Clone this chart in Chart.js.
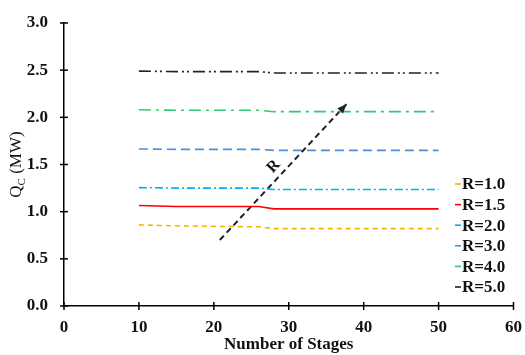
<!DOCTYPE html>
<html>
<head>
<meta charset="utf-8">
<script src="https://cdn.jsdelivr.net/npm/chart.js@4.4.0/dist/chart.umd.min.js"></script>
<style>
html, body { margin: 0; padding: 0; background: #fff; }
#wrap { width: 525px; height: 355px; }
</style>
</head>
<body>
<div id="wrap"><canvas id="QcStages"></canvas></div>
<script>
const stages = [10, 15, 20, 25, 26, 28, 30, 35, 40, 45, 50];
const qR10 = [0.86, 0.85, 0.845, 0.84, 0.84, 0.82, 0.82, 0.82, 0.82, 0.82, 0.82];
const qR15 = [1.065, 1.055, 1.055, 1.055, 1.055, 1.03, 1.03, 1.03, 1.03, 1.03, 1.03];
const qR20 = [1.255, 1.25, 1.25, 1.25, 1.25, 1.235, 1.235, 1.235, 1.235, 1.235, 1.235];
const qR30 = [1.665, 1.66, 1.66, 1.66, 1.66, 1.65, 1.65, 1.65, 1.65, 1.65, 1.65];
const qR40 = [2.08, 2.075, 2.075, 2.075, 2.075, 2.06, 2.06, 2.06, 2.06, 2.06, 2.06];
const qR50 = [2.49, 2.485, 2.485, 2.485, 2.485, 2.47, 2.47, 2.47, 2.47, 2.47, 2.47];
const ratioLabels = ['R=1.0', 'R=1.5', 'R=2.0', 'R=3.0', 'R=4.0', 'R=5.0'];
const arrowX = [20.8, 37.7];
const arrowY = [0.70, 2.14];
const arrowLabel = 'R';

const serif = '"Liberation Serif", "Times New Roman", serif';

function pts(ys) {
  return stages.map((s, i) => ({ x: s, y: ys[i] }));
}

const series = [
  { data: qR10, color: '#F7B500', dash: [5, 4] },
  { data: qR15, color: '#FF0000', dash: [] },
  { data: qR20, color: '#00B0F0', dash: [8, 3, 2, 3] },
  { data: qR30, color: '#4A90D9', dash: [9, 5] },
  { data: qR40, color: '#2ECC71', dash: [12, 5, 3, 5] },
  { data: qR50, color: '#222222', dash: [12, 4, 2, 3, 2, 4] }
];

const datasets = series.map((s, i) => ({
  label: ratioLabels[i],
  data: pts(s.data),
  borderColor: s.color,
  borderDash: s.dash,
  borderWidth: 1.6,
  pointRadius: 0,
  tension: 0,
  fill: false
}));

datasets.push({
  label: 'arrow',
  data: arrowX.map((x, i) => ({ x: x, y: arrowY[i] })),
  borderColor: '#222',
  borderDash: [6, 4],
  borderWidth: 2,
  pointRadius: 0,
  fill: false
});

const extras = {
  id: 'extras',
  afterDraw(chart) {
    const c = chart.ctx;
    const xs = chart.scales.x, ys = chart.scales.y;
    const area = chart.chartArea;
    c.save();

    // tick marks crossing the axes
    c.strokeStyle = '#000';
    c.lineWidth = 1.5;
    xs.ticks.forEach(t => {
      const px = xs.getPixelForValue(t.value);
      c.beginPath(); c.moveTo(px, area.bottom - 4); c.lineTo(px, area.bottom + 4); c.stroke();
    });
    ys.ticks.forEach(t => {
      const py = ys.getPixelForValue(t.value);
      c.beginPath(); c.moveTo(area.left - 4, py); c.lineTo(area.left + 4, py); c.stroke();
    });

    // arrow head
    const x0 = xs.getPixelForValue(arrowX[0]), y0 = ys.getPixelForValue(arrowY[0]);
    const x1 = xs.getPixelForValue(arrowX[1]), y1 = ys.getPixelForValue(arrowY[1]);
    const ang = Math.atan2(y1 - y0, x1 - x0);
    c.fillStyle = '#222';
    c.beginPath();
    c.moveTo(x1, y1);
    c.lineTo(x1 - 10 * Math.cos(ang - 0.4), y1 - 10 * Math.sin(ang - 0.4));
    c.lineTo(x1 - 10 * Math.cos(ang + 0.4), y1 - 10 * Math.sin(ang + 0.4));
    c.closePath();
    c.fill();

    // R label along the arrow
    const lx = xs.getPixelForValue(28.0), ly = ys.getPixelForValue(1.48);
    c.translate(lx, ly);
    c.rotate(ang);
    c.font = 'bold 16px ' + serif;
    c.textAlign = 'center';
    c.textBaseline = 'middle';
    c.fillStyle = '#111';
    c.fillText(arrowLabel, 0, 0);
    c.setTransform(1, 0, 0, 1, 0, 0);

    // legend
    c.font = 'bold 17px ' + serif;
    c.textAlign = 'left';
    c.textBaseline = 'middle';
    series.forEach((s, i) => {
      const y = 184 + i * 20.6;
      c.strokeStyle = s.color;
      c.lineWidth = 1.6;
      c.setLineDash([]);
      c.beginPath(); c.moveTo(455, y); c.lineTo(461, y); c.stroke();
      c.fillStyle = '#111';
      c.fillText(ratioLabels[i], 462, y + 1);
    });

    // y title with subscript
    c.translate(17, (area.top + area.bottom) / 2);
    c.rotate(-Math.PI / 2);
    c.fillStyle = '#111';
    c.textBaseline = 'middle';
    const mainF = '17px ' + serif, subF = '11px ' + serif;
    c.font = mainF; const wQ = c.measureText('Q').width;
    c.font = subF; const wC = c.measureText('C').width;
    c.font = mainF; const wR = c.measureText(' (MW)').width;
    let sx = -(wQ + wC + wR) / 2;
    c.textAlign = 'left';
    c.font = mainF; c.fillText('Q', sx, 0); sx += wQ;
    c.font = subF; c.fillText('C', sx, 5); sx += wC;
    c.font = mainF; c.fillText(' (MW)', sx, 0);
    c.restore();
  }
};

new Chart(document.getElementById('QcStages'), {
  type: 'line',
  data: { datasets: datasets },
  options: {
    animation: false,
    responsive: true,
    maintainAspectRatio: false,
    layout: { padding: { top: 23, right: 0 } },
    plugins: { legend: { display: false }, tooltip: { enabled: false } },
    scales: {
      x: {
        type: 'linear',
        min: 0, max: 60,
        ticks: { stepSize: 10, color: '#111', padding: 3, font: { family: serif, size: 17, weight: 'bold' } },
        grid: { display: false },
        border: { color: '#000', width: 1.5 },
        title: { display: true, text: 'Number of Stages', color: '#111', padding: { top: 0, bottom: 0 }, font: { family: serif, size: 17, weight: 'bold' } },
        afterFit(scale) { scale.height = 49; }
      },
      y: {
        min: 0, max: 3,
        ticks: { stepSize: 0.5, color: '#111', padding: 8, callback: v => v.toFixed(1), font: { family: serif, size: 17, weight: 'bold' } },
        grid: { display: false },
        border: { color: '#000', width: 1.5 },
        afterFit(scale) { scale.width = 64; }
      }
    }
  },
  plugins: [extras]
});
</script>
</body>
</html>
